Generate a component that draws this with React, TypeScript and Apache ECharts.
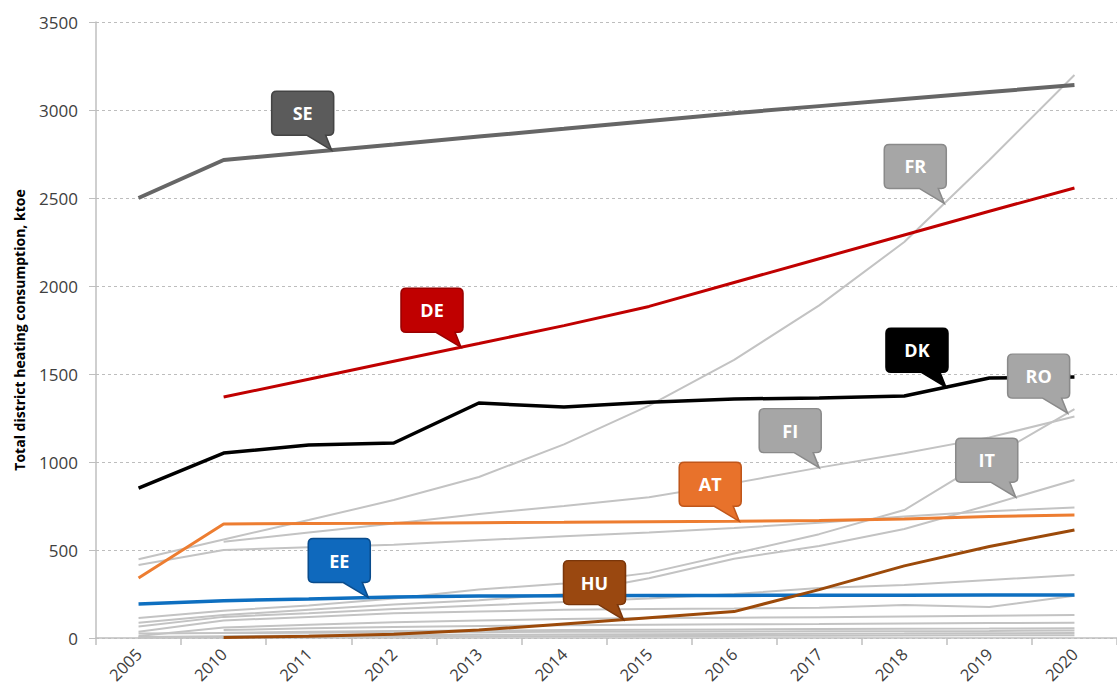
import React, { useEffect, useRef } from 'react';
import * as echarts from 'echarts';

const years = ['2005', '2010', '2011', '2012', '2013', '2014', '2015', '2016', '2017', '2018', '2019', '2020'];
const yTicks = [0, 500, 1000, 1500, 2000, 2500, 3000, 3500];

// Highlighted countries (ktoe)
const SE = [2500, 2716, 2760, 2804, 2849, 2893, 2938, 2982, 3022, 3062, 3102, 3142];
const DE = [null, 1369, 1470, 1572, 1673, 1775, 1884, 2020, 2155, 2290, 2425, 2557];
const DK = [852, 1051, 1097, 1108, 1335, 1312, 1340, 1358, 1364, 1375, 1477, 1483];
const AT = [341, 648, 650, 652, 655, 657, 660, 663, 667, 676, 690, 699];
const EE = [193, 212, 222, 233, 238, 240, 241, 242, 243, 243, 244, 245];
const HU = [null, 3, 10, 22, 45, 80, 115, 150, 275, 410, 520, 614];

// Grey countries
const FR = [447, 560, 670, 784, 915, 1100, 1320, 1580, 1890, 2250, 2716, 3199];
const FI = [null, 547, 600, 650, 705, 750, 800, 880, 968, 1050, 1140, 1258];
const RO = [113, 155, 185, 225, 275, 310, 370, 480, 590, 727, 1020, 1300];
const IT = [87, 130, 160, 190, 215, 250, 340, 450, 523, 619, 756, 898];
const other1 = [415, 500, 515, 530, 555, 578, 600, 625, 655, 690, 720, 742];
const other2 = [65, 120, 140, 165, 185, 205, 225, 250, 284, 301, 330, 358];
const other3 = [36, 100, 120, 140, 150, 160, 165, 168, 172, 187, 176, 240];
const other4 = [11, 60, 75, 90, 100, 108, 113, 115, 118, 122, 126, 131];
const other5 = [null, 45, 55, 62, 68, 72, 75, 78, 80, 83, 85, 87];
const other6 = [null, 30, 35, 40, 42, 45, 47, 49, 51, 53, 54, 56];
const other7 = [25, 28, 30, 32, 33, 35, 36, 37, 38, 39, 40, 42];
const other8 = [5, 10, 14, 16, 18, 20, 22, 23, 24, 25, 27, 28];
const other9 = [2, 5, 7, 8, 9, 10, 11, 12, 13, 14, 15, 16];

const highlighted = [
  { name: 'SE', data: SE, color: '#666666', width: 4, fill: '#5b5b5b', border: '#444444' },
  { name: 'DE', data: DE, color: '#c00000', width: 3, fill: '#c00000', border: '#9a0000' },
  { name: 'DK', data: DK, color: '#000000', width: 3.5, fill: '#000000', border: '#000000' },
  { name: 'AT', data: AT, color: '#ed7d31', width: 3, fill: '#e8722b', border: '#c0561a' },
  { name: 'EE', data: EE, color: '#0e6fc0', width: 3.5, fill: '#0f69bd', border: '#0a4c8c' },
  { name: 'HU', data: HU, color: '#9c4a0a', width: 3, fill: '#9a4810', border: '#7a360a' },
];
const greys = [
  { name: 'FR', data: FR },
  { name: 'FI', data: FI },
  { name: 'RO', data: RO },
  { name: 'IT', data: IT },
  { name: 'Other 1', data: other1 },
  { name: 'Other 2', data: other2 },
  { name: 'Other 3', data: other3 },
  { name: 'Other 4', data: other4 },
  { name: 'Other 5', data: other5 },
  { name: 'Other 6', data: other6 },
  { name: 'Other 7', data: other7 },
  { name: 'Other 8', data: other8 },
  { name: 'Other 9', data: other9 },
];

// Callouts: country label and position along the x axis (category index) where the tail touches the line
const calloutNames = ['SE', 'FR', 'DE', 'DK', 'RO', 'FI', 'IT', 'AT', 'EE', 'HU'];
const calloutAt = [2.27, 9.47, 3.79, 9.49, 10.92, 8.0, 10.31, 7.06, 2.7, 5.7];

const calloutPath =
  'path://M5 0 L57 0 Q62 0 62 5 L62 39 Q62 44 57 44 L54 44 L60 59 L35 44 L5 44 Q0 44 0 39 L0 5 Q0 0 5 0 Z';

function valueAt(data: (number | null)[], xi: number): number {
  const i = Math.floor(xi);
  const f = xi - i;
  const a = data[i] as number;
  const b = (data[Math.min(i + 1, data.length - 1)] ?? a) as number;
  return a + (b - a) * f;
}

export default function App() {
  const ref = useRef<HTMLDivElement>(null);
  useEffect(() => {
    const chart = echarts.init(ref.current!, null, { renderer: 'svg' });
    const font = '"Open Sans", "Liberation Sans", sans-serif';
    const all: Record<string, any> = {};
    highlighted.forEach((h) => (all[h.name] = h));
    greys.forEach((g) => (all[g.name] = { ...g, fill: '#a6a6a6', border: '#8a8a8a' }));

    const series: any[] = [];
    greys.forEach((g) =>
      series.push({
        type: 'line',
        name: g.name,
        data: g.data,
        symbol: 'none',
        lineStyle: { color: '#c3c3c3', width: 2 },
        z: 2,
      })
    );
    highlighted.forEach((h) =>
      series.push({
        type: 'line',
        name: h.name,
        data: h.data,
        symbol: 'none',
        lineStyle: { color: h.color, width: h.width },
        z: 3,
      })
    );
    series.push({
      type: 'scatter',
      xAxisIndex: 1,
      yAxisIndex: 0,
      symbol: calloutPath,
      symbolSize: [62, 59],
      symbolOffset: [-29, -29.5],
      z: 10,
      data: calloutNames.map((n, i) => ({
        name: n,
        value: [calloutAt[i], valueAt(all[n].data, calloutAt[i])],
        itemStyle: { color: all[n].fill, borderColor: all[n].border, borderWidth: 1.5, opacity: 1 },
      })),
      label: {
        show: true,
        position: 'inside',
        offset: [0, -7.5],
        formatter: '{b}',
        color: '#ffffff',
        fontFamily: font,
        fontWeight: 'bold',
        fontSize: 18,
      },
    });

    chart.setOption({
      animation: false,
      backgroundColor: '#ffffff',
      grid: { left: 96, top: 22, width: 1026, height: 616 },
      xAxis: [
        {
          type: 'category',
          data: years,
          boundaryGap: true,
          axisLine: { show: true, lineStyle: { color: '#bfbfbf', width: 1.5 } },
          axisTick: { show: true, length: 7, lineStyle: { color: '#bfbfbf', width: 1.5 } },
          axisLabel: { rotate: 45, margin: 13, color: '#404040', fontSize: 16.5, fontFamily: font },
          splitLine: { show: false },
        },
        { type: 'value', min: -0.5, max: 11.5, show: false },
      ],
      yAxis: {
        type: 'value',
        min: 0,
        max: 3500,
        interval: 500,
        name: 'Total district heating consumption, ktoe',
        nameLocation: 'middle',
        nameGap: 70,
        nameTextStyle: { color: '#000000', fontWeight: 'bold', fontSize: 14, fontFamily: font },
        axisLine: { show: true, onZero: false, lineStyle: { color: '#bfbfbf', width: 1.5 } },
        axisTick: { show: true, length: 7, lineStyle: { color: '#bfbfbf' } },
        axisLabel: {
          color: '#404040',
          fontSize: 17,
          margin: 18,
          fontFamily: font,
          formatter: (v: number) => (yTicks.includes(v) ? String(v) : ''),
        },
        splitLine: { show: true, lineStyle: { color: '#bdbdbd', type: [3, 3], width: 1 } },
      },
      series,
    });
    return () => chart.dispose();
  }, []);
  return (
    <div
      ref={ref}
      style={{ position: 'absolute', left: 0, top: 0, width: 1117, height: 695, background: '#fff' }}
    />
  );
}
